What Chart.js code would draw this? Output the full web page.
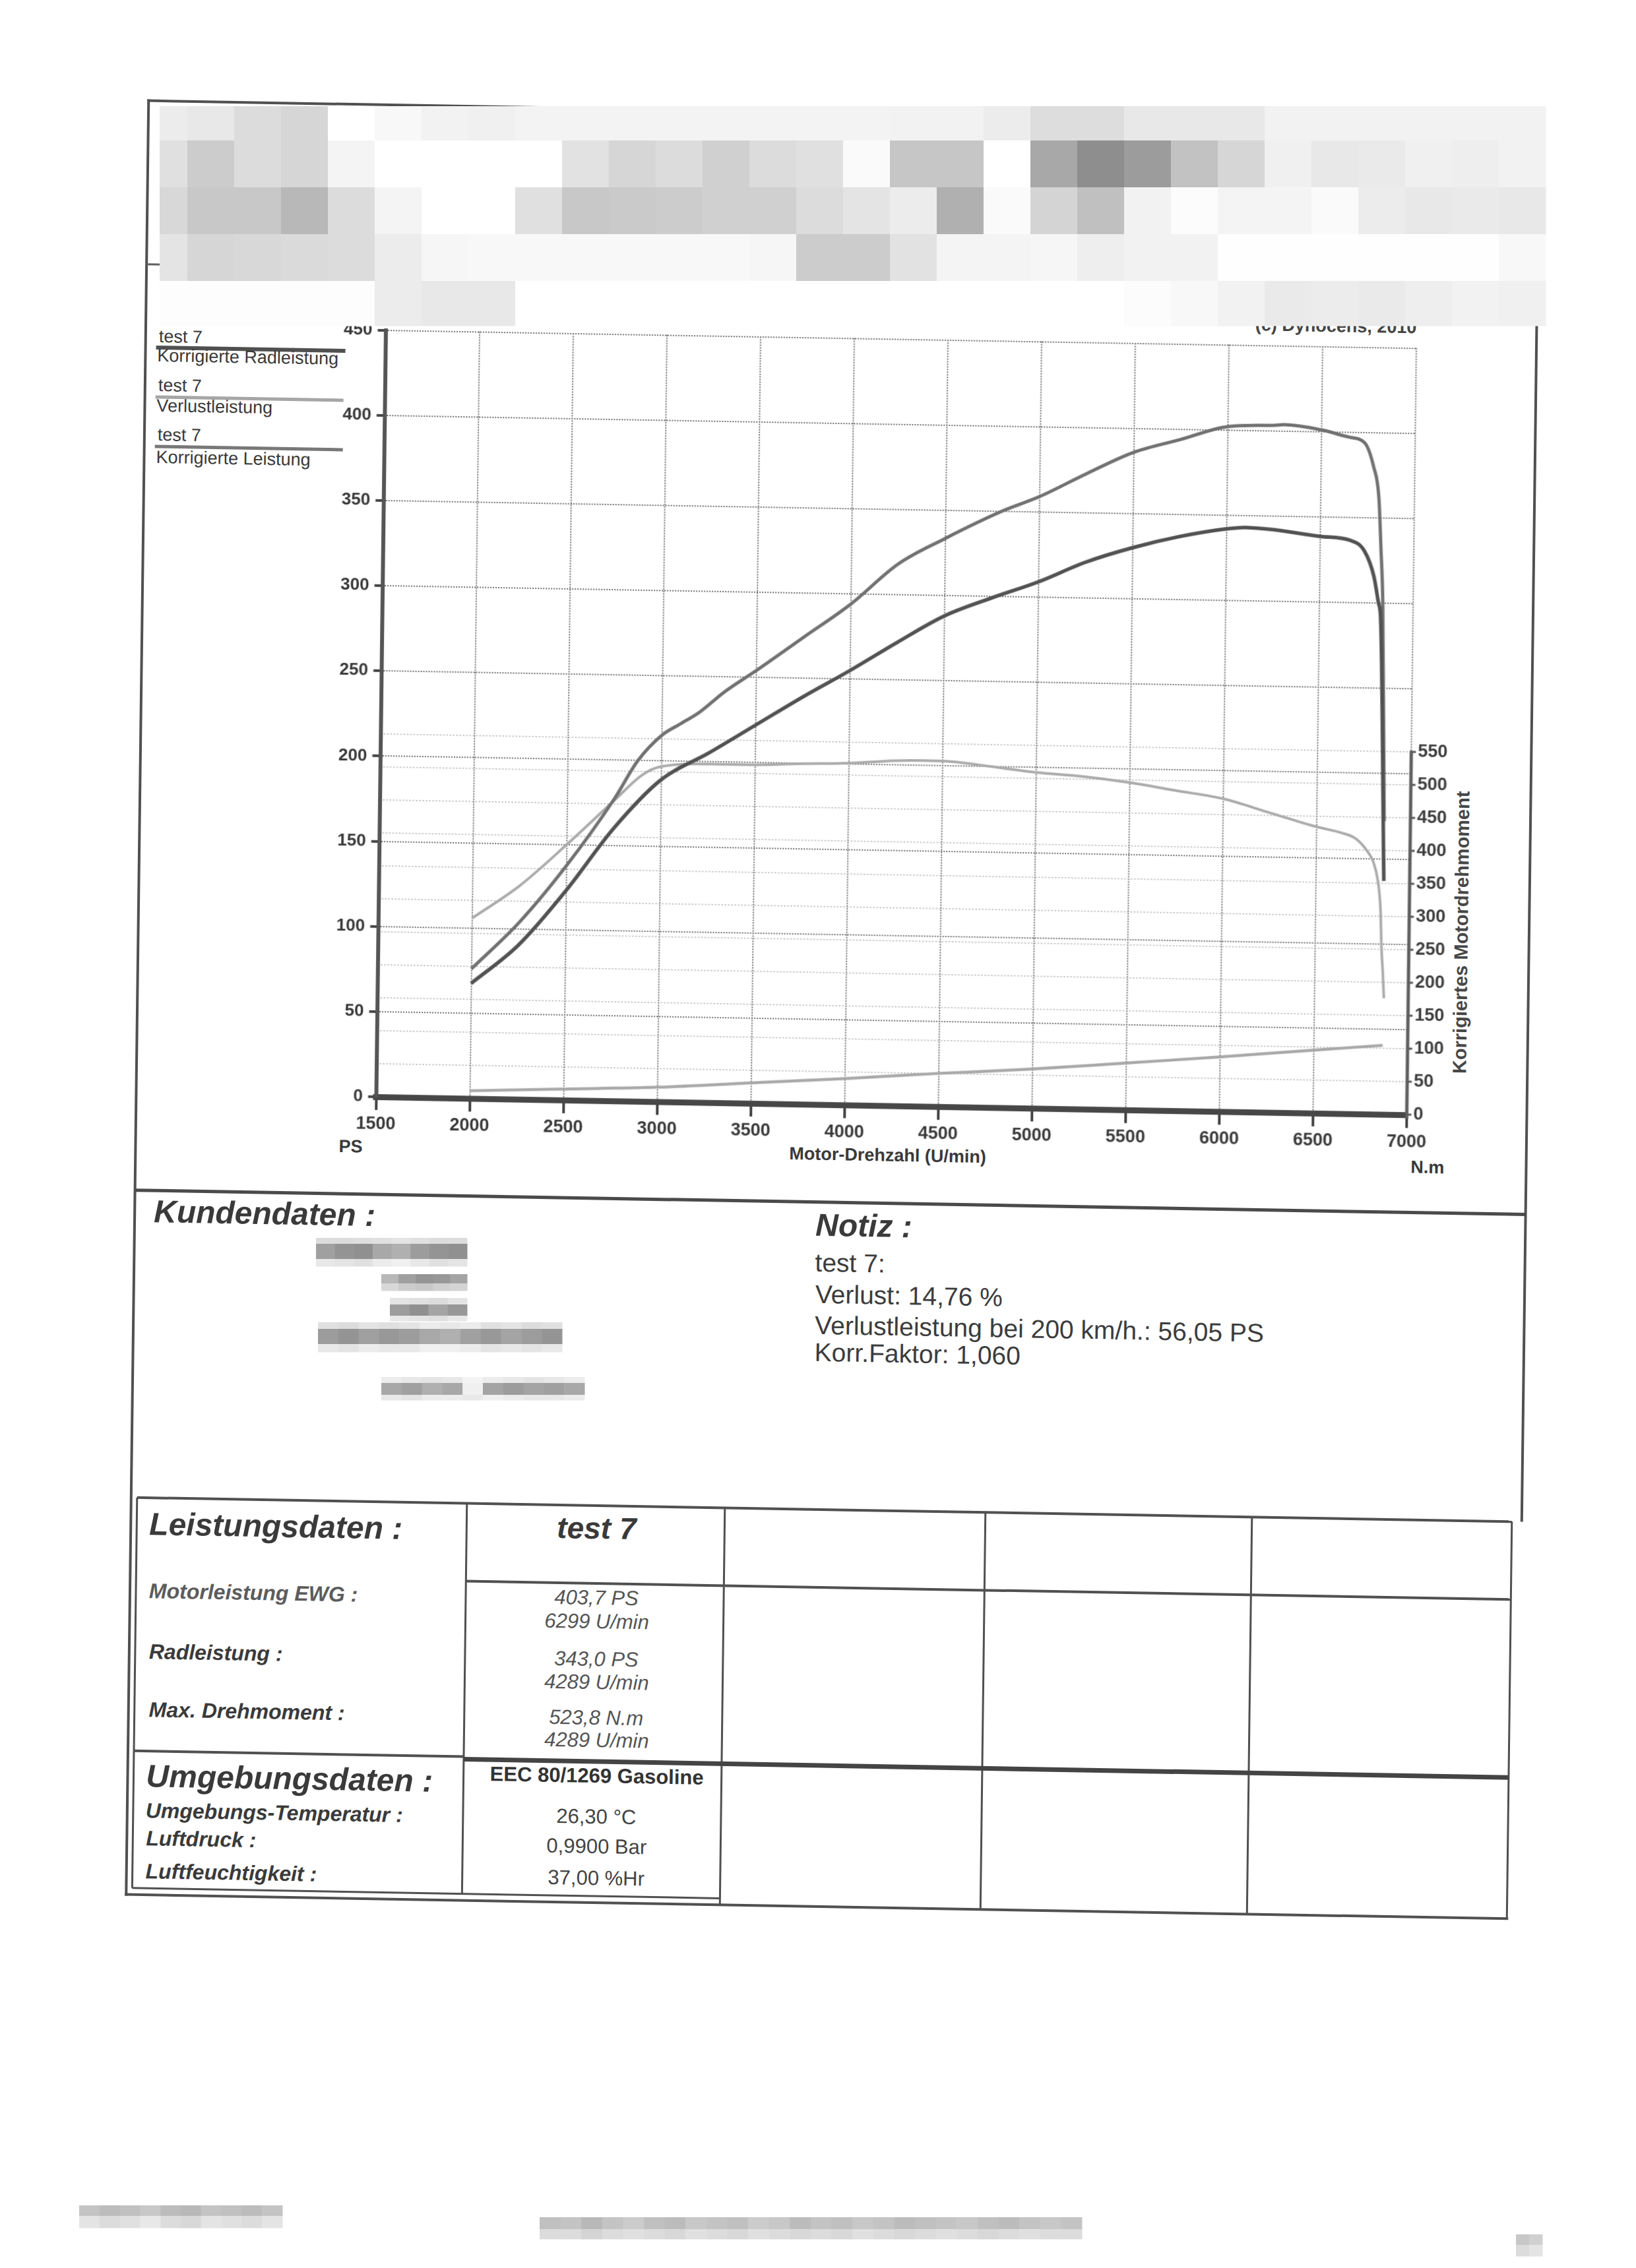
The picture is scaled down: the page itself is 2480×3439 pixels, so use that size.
<!DOCTYPE html>
<html>
<head>
<meta charset="utf-8">
<script src="https://cdn.jsdelivr.net/npm/chart.js@4.4.1/dist/chart.umd.min.js"></script>
<style>
html,body{margin:0;padding:0;background:#fff;width:2480px;height:3439px;overflow:hidden;}
#page{position:absolute;left:0;top:0;width:2480px;height:3439px;transform-origin:584px 500px;transform:matrix(1,0.0175,-0.0125,1,0,0);}
#deco{position:absolute;left:0;top:0;}
#chartWrap{position:absolute;left:300px;top:440px;width:1950px;height:1320px;}
#blur{position:absolute;left:0;top:0;}
</style>
</head>
<body>
<div id="page">
  <svg id="deco" width="2480" height="3439" xmlns="http://www.w3.org/2000/svg"></svg>
  <div id="chartWrap"><canvas id="c" width="1950" height="1320"></canvas></div>
</div>
<svg id="blur" width="2480" height="3439" xmlns="http://www.w3.org/2000/svg"></svg>
<script>
// ---------------- data ----------------
const rpmTicks = [1500, 2000, 2500, 3000, 3500, 4000, 4500, 5000, 5500, 6000, 6500, 7000];
const psTicks  = [0, 50, 100, 150, 200, 250, 300, 350, 400, 450];
const nmTicks  = [0, 50, 100, 150, 200, 250, 300, 350, 400, 450, 500, 550];

// Korrigierte Leistung (PS)
const rpmLeistung = [2000, 2250, 2500, 2750, 2875, 3000, 3100, 3200, 3330, 3500, 3750, 4000, 4250, 4500, 4800, 5000, 5250, 5500, 5750, 6000, 6250, 6300, 6500, 6650, 6730, 6780, 6810, 6825, 6838, 6860];
const psLeistung  = [76, 103.5, 137.5, 177, 200, 215, 222, 229, 241, 254, 274, 294, 318, 333.5, 350, 359, 373, 386, 394, 402, 403.3, 403.7, 401, 397, 394, 380, 362, 331, 300, 172];

// Korrigierte Radleistung (PS)
const rpmRadleistung = [2000, 2250, 2500, 2750, 3000, 3250, 3500, 3750, 4000, 4250, 4500, 4750, 5000, 5250, 5500, 5750, 6000, 6100, 6250, 6500, 6660, 6736, 6789, 6815, 6828, 6862];
const psRadleistung  = [67.5, 90.5, 123, 160, 189, 205, 222, 239, 255, 272, 288, 299, 309, 321, 330, 337, 342, 343, 342, 338.5, 336.5, 330.5, 315.5, 300, 290, 137];

// Korrigiertes Motordrehmoment (N.m)
const rpmDrehmoment = [2000, 2250, 2500, 2750, 2900, 3000, 3250, 3500, 3750, 4000, 4250, 4400, 4550, 4750, 5000, 5250, 5500, 5750, 6000, 6250, 6500, 6640, 6710, 6765, 6805, 6830, 6846, 6854, 6863, 6870];
const nmDrehmoment  = [273, 323, 387, 455, 495, 508, 513, 513, 516, 518, 523, 524, 523, 517, 509, 504, 496, 485, 474, 454, 434, 425, 417, 401, 382, 354, 311, 252, 213, 176];

// Verlustleistung (PS)
const rpmVerlust = [2000, 2500, 3000, 3500, 4000, 4500, 5000, 5500, 6000, 6500, 6867];
const psVerlust  = [4.5, 6.5, 8.5, 12, 15.5, 19.5, 23, 27.5, 32, 37, 40.5];

// ---------------- chart ----------------
const FONT = "'Liberation Sans', Arial, Helvetica, sans-serif";
Chart.defaults.font.family = FONT;
const pts = (xs, ys) => xs.map((x, i) => ({x: x, y: ys[i]}));
const lineBase = {showLine: true, pointRadius: 0, pointHoverRadius: 0, fill: false, tension: 0.25, cubicInterpolationMode: 'monotone'};
const plain = v => String(v);

const torqueAxisLine = {
  id: 'torqueAxisLine',
  afterDraw(chart) {
    const s = chart.scales.y2, ctx = chart.ctx, x = chart.chartArea.right;
    ctx.save();
    ctx.strokeStyle = '#5e5e5e';
    ctx.lineWidth = 5;
    ctx.beginPath();
    ctx.moveTo(x, s.getPixelForValue(nmTicks[0]) + 6);
    ctx.lineTo(x, s.getPixelForValue(nmTicks[nmTicks.length - 1]) - 2);
    ctx.stroke();
    ctx.restore();
  }
};

new Chart(document.getElementById('c'), {
  type: 'scatter',
  data: {
    datasets: [
      Object.assign({label: 'Korrigierte Radleistung', data: pts(rpmRadleistung, psRadleistung), borderColor: '#525252', borderWidth: 5.5, yAxisID: 'y'}, lineBase),
      Object.assign({label: 'Korrigierte Leistung', data: pts(rpmLeistung, psLeistung), borderColor: '#717171', borderWidth: 5, yAxisID: 'y'}, lineBase),
      Object.assign({label: 'Korrigiertes Motordrehmoment', data: pts(rpmDrehmoment, nmDrehmoment), borderColor: '#ababab', borderWidth: 4, yAxisID: 'y2'}, lineBase),
      Object.assign({label: 'Verlustleistung', data: pts(rpmVerlust, psVerlust), borderColor: '#a8a8a8', borderWidth: 4.5, yAxisID: 'y'}, lineBase)
    ]
  },
  options: {
    responsive: false,
    animation: false,
    devicePixelRatio: 1,
    layout: {padding: {top: 60.5, left: 0, right: 0, bottom: 0}},
    plugins: {legend: {display: false}, tooltip: {enabled: false}},
    events: [],
    scales: {
      x: {
        type: 'linear', min: rpmTicks[0], max: rpmTicks[rpmTicks.length - 1],
        afterBuildTicks: s => { s.ticks = rpmTicks.map(v => ({value: v})); },
        afterFit: s => { s.height = 97; },
        ticks: {autoSkip: false, maxRotation: 0, padding: 5, color: '#383838', font: {size: 27, weight: 'bold'}, callback: plain},
        grid: {color: '#6e6e6e', lineWidth: 2, tickLength: 20, tickColor: '#444', tickWidth: 4, drawTicks: true},
        border: {display: true, color: '#474747', width: 9, dash: [2, 2]}
      },
      y: {
        position: 'left', min: psTicks[0], max: psTicks[psTicks.length - 1],
        afterBuildTicks: s => { s.ticks = psTicks.map(v => ({value: v})); },
        afterFit: s => { s.width = 284.5; },
        ticks: {autoSkip: false, padding: 8, color: '#383838', font: {size: 26, weight: 'bold'}, callback: plain},
        grid: {color: '#6e6e6e', lineWidth: 2, tickLength: 12, tickColor: '#444', tickWidth: 4},
        border: {display: true, color: '#555', width: 6, dash: [2, 2]}
      },
      y2: {
        position: 'right', min: 0, max: 1162,
        afterBuildTicks: s => { s.ticks = nmTicks.map(v => ({value: v})); },
        afterFit: s => { s.width = 103; },
        ticks: {autoSkip: false, padding: 3, color: '#3c3c3c', font: {size: 27, weight: 'bold'}, callback: plain},
        grid: {color: '#a2a2a2', lineWidth: 1.5, tickLength: 7, tickColor: '#555', tickWidth: 3, drawOnChartArea: true},
        border: {display: false, dash: [2, 3]}
      }
    }
  },
  plugins: [torqueAxisLine]
});

// ---------------- document decoration (svg) ----------------
const NS = 'http://www.w3.org/2000/svg';
function el(parent, tag, attrs, text) {
  const e = document.createElementNS(NS, tag);
  for (const k in attrs) e.setAttribute(k, attrs[k]);
  if (text != null) e.textContent = text;
  parent.appendChild(e);
  return e;
}
const deco = document.getElementById('deco');
function line(x1, y1, x2, y2, w, c) { el(deco, 'line', {x1: x1, y1: y1, x2: x2, y2: y2, stroke: c || '#505050', 'stroke-width': w}); }
function txt(s, x, y, size, o) {
  o = o || {};
  const attrs = {x: x, y: y, 'font-size': size, 'font-family': FONT, 'font-weight': o.w || 'normal',
    'font-style': o.i ? 'italic' : 'normal', fill: o.c || '#3a3a3a', 'text-anchor': o.a || 'start'};
  if (o.t) attrs.transform = o.t;
  if (o.db) attrs['dominant-baseline'] = o.db;
  el(deco, 'text', attrs, s);
}

// frame
line(219, 159, 2331, 159, 4);
line(221, 157, 221, 2881, 4);
line(2329, 157, 2329, 2277, 4);
line(221, 407, 2329, 407, 3, '#606060');
line(221, 1811, 2329, 1811, 5, '#4a4a4a');

// legend
line(237, 533, 524, 533, 6, '#505050');
line(237, 608, 522, 608, 5, '#a6a6a6');
line(237, 683, 522, 683, 5, '#787878');
txt('test 7', 241, 525, 27);
txt('Korrigierte Radleistung', 239, 554, 27);
txt('test 7', 241, 599, 27);
txt('Verlustleistung', 239, 630, 27);
txt('test 7', 241, 674, 27);
txt('Korrigierte Leistung', 239, 708, 27);

// copyright (mostly hidden)
txt('(c) Dynocens, 2010', 2147, 478, 27, {w: 'bold', a: 'end', c: '#444'});

// axis titles
txt('PS', 529, 1748, 27, {w: 'bold'});
txt('Motor-Drehzahl (U/min)', 1361, 1747, 27, {w: 'bold', a: 'middle'});
txt('N.m', 2154, 1751, 27, {w: 'bold'});
txt('Korrigiertes Motordrehmoment', 0, 0, 29, {w: 'bold', a: 'middle', db: 'central', c: '#474747', t: 'translate(2226,1385) rotate(-90)'});

// Kundendaten / Notiz
txt('Kundendaten :', 250, 1859, 48, {w: 'bold', i: true});
txt('Notiz :', 1253, 1862, 48, {w: 'bold', i: true});
txt('test 7:', 1253, 1916, 39, {c: '#3c3c3c'});
txt('Verlust: 14,76 %', 1254, 1964, 39, {c: '#3c3c3c'});
txt('Verlustleistung bei 200 km/h.: 56,05 PS', 1254, 2011, 39, {c: '#3c3c3c'});
txt('Korr.Faktor: 1,060', 1254, 2052, 39, {c: '#3c3c3c'});

// table
line(230, 2277, 2314, 2277, 4);
line(230, 2277, 230, 2869, 3);
line(730, 2277, 730, 2869, 3);
line(1121, 2277, 1121, 2879, 3);
line(1516, 2277, 1516, 2879, 3);
line(1920, 2277, 1920, 2879, 3);
line(2314, 2277, 2314, 2879, 3);
line(730, 2395, 2314, 2395, 4);
line(230, 2661, 730, 2661, 4);
line(730, 2665, 2314, 2665, 7, '#444');
line(230, 2869, 1121, 2869, 3);
line(219, 2879, 2316, 2879, 4);

txt('Leistungsdaten :', 249, 2333, 48, {w: 'bold', i: true});
txt('test 7', 927, 2327, 46, {w: 'bold', i: true, a: 'middle'});
txt('Motorleistung EWG :', 250, 2429, 32, {w: 'bold', i: true, c: '#5c5c5c'});
txt('Radleistung :', 251, 2521, 32, {w: 'bold', i: true});
txt('Max. Drehmoment :', 252, 2609, 32, {w: 'bold', i: true});
txt('403,7 PS', 928, 2427, 31, {i: true, a: 'middle', c: '#555'});
txt('6299 U/min', 929, 2463, 31, {i: true, a: 'middle', c: '#555'});
txt('343,0 PS', 929, 2520, 31, {i: true, a: 'middle', c: '#555'});
txt('4289 U/min', 930, 2555, 31, {i: true, a: 'middle', c: '#555'});
txt('523,8 N.m', 930, 2609, 31, {i: true, a: 'middle', c: '#555'});
txt('4289 U/min', 931, 2643, 31, {i: true, a: 'middle', c: '#555'});
txt('Umgebungsdaten :', 249, 2715, 48, {w: 'bold', i: true});
txt('EEC 80/1269 Gasoline', 932, 2697, 31, {w: 'bold', a: 'middle', c: '#333'});
txt('Umgebungs-Temperatur :', 249, 2762, 32, {w: 'bold', i: true});
txt('Luftdruck :', 250, 2804, 32, {w: 'bold', i: true});
txt('Luftfeuchtigkeit :', 250, 2854, 32, {w: 'bold', i: true});
txt('26,30 °C', 932, 2759, 31, {a: 'middle', c: '#444'});
txt('0,9900 Bar', 933, 2804, 31, {a: 'middle', c: '#444'});
txt('37,00 %Hr', 933, 2852, 31, {a: 'middle', c: '#444'});

// ---------------- pixelated (anonymised) areas, not skewed ----------------
const blur = document.getElementById('blur');
function cellRow(x0, widths, y0, h, greys) {
  let x = x0;
  for (let i = 0; i < widths.length; i++) {
    const g = greys[i] || 'ff';
    el(blur, 'rect', {x: x, y: y0, width: widths[i] + 0.5, height: h + 0.5, fill: '#' + g + g + g});
    x += widths[i];
  }
}
const headRows = [
  'ec e8 dc d6 ff f8 f2 f0 f3 f3 f3 f3 f3 f3 f3 f3 f2 f2 ec dd dd e8 e8 e8 f2 f2 f2 f2 f2 f2',
  'e0 cc dc d6 f4 ff ff ff ff e2 d6 dc d0 dc e0 fa c6 c6 ff a8 8e 9c c2 d6 f0 e8 ea f0 ee f2',
  'd8 c8 c8 b8 dc f4 ff ff e0 c8 ca cc d0 d0 dc e4 ec b0 fa d4 c0 f2 fc f4 f4 fa ec e8 ea e8',
  'e4 d6 d8 da dc ec f6 f8 f8 f8 f8 f8 f8 f6 cc cc e2 f4 f4 f6 ee f2 f2 fe fe fe fe fe fe f8',
  'fd fd fd fd fd ec e8 e8 ff ff ff ff ff ff ff ff ff ff ff ff ff fc f8 f2 ea ec ea ee f2 f0'
].map(r => r.split(' '));
const headY = [161, 213, 284, 355, 426, 494];
const headW = [42].concat(new Array(29).fill(71));
headRows.forEach((r, i) => cellRow(242, headW, headY[i], headY[i + 1] - headY[i], r));

function block(x, w, ys, rows) {
  const rr = rows.map(r => r.split(' '));
  const n = rr[0].length;
  const ws = new Array(n).fill(w / n);
  rr.forEach((r, i) => cellRow(x, ws, ys[i], ys[i + 1] - ys[i], r));
}
block(479, 229, [1877, 1886, 1909, 1920], ['dc dc de e0 e4 e0 dc dc', 'a0 94 90 a8 b0 9c 94 90', 'e8 e4 e0 ec f0 e8 e0 e4']);
block(578, 130, [1932, 1946, 1957], ['b8 a0 94 98 a4', 'd8 cc c8 d0 d4']);
block(591, 117, [1968, 1978, 1995, 2003], ['e4 e0 dc e4', '9c 90 a4 98', 'e8 e4 e0 e8']);
block(482, 370, [2005, 2015, 2038, 2050], ['e0 dc e4 e0 e4 ec e8 ec e0 e4 dc e0', '9c 94 a0 98 9c a8 b0 a0 98 a4 9c 94', 'e8 e4 ec e8 e8 f0 f0 ec e4 e8 e4 e8']);
block(578, 308, [2088, 2097, 2115, 2123], ['ec e8 e4 e8 f4 ec e8 e4 e8 ec', 'a8 a0 b0 a8 f0 a4 9c a4 a0 a8', 'e8 e4 ec ec e8 f0 ec e8 e8 ec']);
block(120, 308, [3344, 3360, 3378], ['c4 bc c0 c8 bc b8 c4 c0 bc c4', 'e4 dc e0 e8 dc d8 e4 e0 dc e4']);
block(818, 822, [3362, 3380, 3395], ['c0 c4 b8 c4 cc c0 bc c8 c4 c0 cc c8 bc c4 c0 c8 c4 bc c0 c4 c8 c0 bc c4 c8 c4', 'dc dc d4 dc e0 dc d8 e0 dc d8 e0 dc d8 dc d8 e0 dc d8 dc e0 dc d8 dc e0 dc dc']);
block(2298, 40, [3388, 3404, 3421], ['c8 d0', 'dc e4']);
</script>
</body>
</html>
